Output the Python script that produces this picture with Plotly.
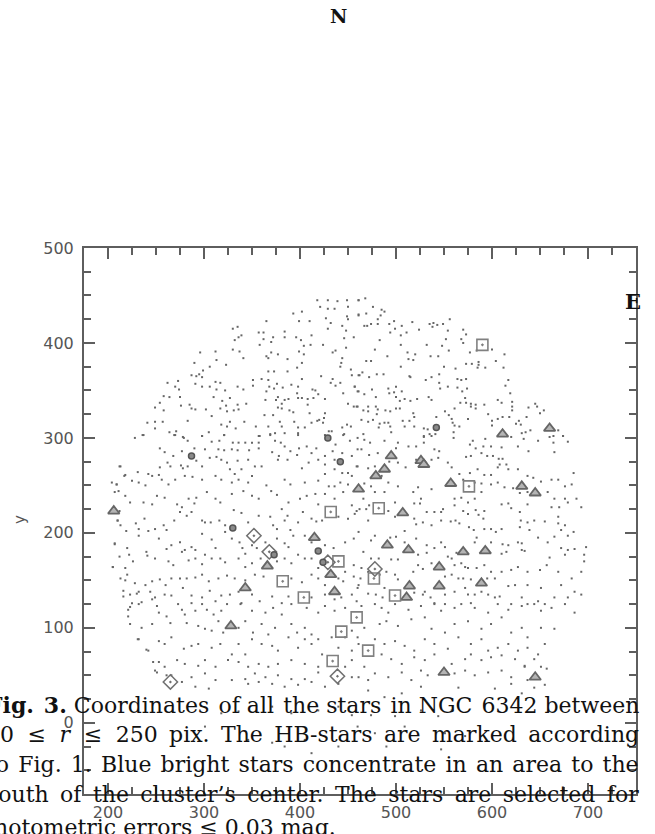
import plotly.graph_objects as go

# ---- data (star coordinates in pixels) ----
field_stars = [
(418,445),(429,445),(439,444),(449,445),(461,445),(421,438),(429,436),(436,436),(450,438),(393,431),
(402,433),(427,426),(449,428),(461,429),(365,423),(399,423),(410,423),(432,421),(450,425),(444,418),
(330,415),(335,417),(429,415),(448,413),(336,406),(339,408),(357,411),(362,411),(372,406),(384,412),
(384,406),(396,406),(401,403),(412,408),(446,405),(456,406),(330,393),(332,403),(337,391),(341,384),
(358,398),(362,404),(370,401),(370,390),(377,388),(365,386),(367,384),(387,383),(399,391),(404,397),
(404,388),(411,398),(424,398),(434,390),(437,392),(448,395),(296,390),(312,391),(313,382),(290,379),
(323,377),(402,379),(397,374),(444,384),(443,379),(442,375),(453,372),(287,366),(292,365),(295,367),
(299,371),(306,375),(298,364),(367,370),(373,370),(387,370),(402,362),(422,365),(432,358),(434,362),
(442,358),(454,366),(462,366),(262,358),(273,360),(270,354),(274,351),(291,357),(298,354),(306,354),
(312,359),(317,358),(313,351),(322,350),(335,354),(341,351),(351,361),(351,355),(360,362),(367,361),
(368,354),(373,352),(376,357),(382,353),(391,356),(398,354),(413,351),(416,350),(419,346),(397,347),
(445,347),(437,355),(457,354),(461,349),(258,344),(264,343),(275,343),(310,343),(319,339),(327,342),
(335,335),(344,336),(365,349),(364,340),(375,340),(377,343),(381,336),(384,340),(388,341),(398,342),
(402,342),(408,341),(414,342),(408,335),(426,341),(450,336),(456,333),(459,333),(254,337),(249,332),
(258,329),(276,334),(285,335),(287,331),(291,330),(302,330),(317,331),(323,334),(324,328),(331,329),
(336,330),(377,332),(381,331),(389,329),(393,327),(410,326),(426,326),(241,316),(249,317),(257,317),
(249,310),(283,318),(308,323),(327,317),(342,317),(363,324),(372,324),(379,317),(394,317),(420,319),
(425,321),(424,316),(418,318),(412,316),(398,311),(405,311),(367,312),(381,312),(318,314),(324,312),
(333,310),(354,312),(237,303),(264,306),(271,307),(269,303),(278,301),(298,302),(305,306),(321,303),
(358,302),(369,303),(374,305),(384,305),(398,305),(430,307),(433,307),(444,311),(453,312),(446,304),
(449,314),
(461,445),(468,447),(476,438),(485,435),(488,433),(461,430),(469,431),(484,429),(481,425),(467,418),
(470,418),(474,420),(481,420),(493,420),(498,423),(506,418),(517,422),(499,415),(494,411),(505,408),
(511,411),(524,414),(535,420),(539,421),(543,419),(549,420),(538,417),(556,425),(554,413),(570,414),
(573,409),(568,404),(570,400),(552,404),(483,403),(478,393),(505,398),(532,398),(548,397),(555,392),
(577,390),(584,392),(600,393),(613,388),(512,390),(520,388),(513,383),(518,382),(536,386),(544,386),
(491,386),(469,381),(474,381),(465,369),(461,366),(472,364),(480,367),(487,367),(505,375),(514,365),
(515,364),(531,361),(537,364),(545,367),(550,375),(562,373),(573,378),(579,378),(586,380),(586,377),
(585,374),(593,374),(604,381),(612,374),(564,362),(568,361),(573,362),(545,358),(546,352),(554,354),
(564,353),(569,349),(574,352),(457,354),(460,349),(475,351),(492,352),(493,347),(500,354),(498,348),
(506,349),(467,346),(479,343),(500,343),(504,339),(509,341),(515,339),(522,341),(534,343),(537,340),
(617,361),(614,355),(619,347),(606,340),(610,337),(621,338),(621,333),(621,329),(572,342),(567,337),
(573,337),(578,336),(583,335),(583,331),(578,333),(592,335),(596,325),(600,318),(600,313),(606,320),
(611,322),(618,322),(625,315),(630,314),(628,318),(636,322),(638,332),(647,333),(645,336),(654,329),
(650,326),(640,308),(631,305),(635,306),(669,308),(674,302),(664,302),(460,333),(471,333),(479,333),
(481,330),(489,329),(494,328),(500,331),(504,331),(471,328),(480,325),(466,329),(464,319),(471,317),
(476,319),(483,315),(482,311),(488,316),(492,316),(494,312),(507,318),(514,318),(518,326),(519,322),
(509,312),(519,312),(529,310),(533,309),(535,304),(541,304),(529,302),(561,331),(551,328),(542,322),
(555,324),(558,320),(559,316),(561,313),(566,312),(575,320),(560,306),(495,306),(466,304),
(228,300),(236,303),(270,303),(279,300),(283,297),(298,302),(308,296),(316,297),(321,303),(330,295),
(336,295),(343,295),(350,295),(357,302),(357,295),(369,304),(374,297),(380,295),(384,291),(398,303),
(399,289),(407,291),(417,289),(426,303),(437,293),(445,303),(452,297),(460,288),(254,289),(259,285),
(268,281),(277,286),(290,289),(301,288),(315,288),(321,287),(329,288),(335,287),(347,287),(357,289),
(371,285),(378,281),(390,286),(397,282),(412,284),(426,281),(434,286),(444,284),(454,281),(213,270),
(218,261),(231,264),(242,262),(246,260),(253,261),(254,269),(262,274),(265,270),(276,271),(278,268),
(283,270),(292,276),(298,270),(306,279),(313,280),(318,277),(324,274),(335,276),(346,277),(353,270),
(327,267),(332,262),(339,267),(350,260),(360,270),(377,277),(387,277),(402,268),(409,274),(419,277),
(426,272),(436,277),(436,267),(444,263),(450,263),(454,260),(459,270),(204,253),(209,251),(225,255),
(232,253),(239,250),(256,256),(263,251),(270,256),(280,260),(288,259),(298,256),(312,260),(318,256),
(329,253),(336,256),(346,253),(365,250),(384,256),(390,251),(405,253),(419,255),(426,262),(430,249),
(436,249),(442,253),(450,251),(207,243),(218,239),(223,232),(237,232),(246,230),(251,239),(259,237),
(272,230),(277,227),(284,236),(290,231),(292,237),(303,243),(312,236),(317,232),(329,241),(341,244),
(350,239),(357,236),(370,244),(376,240),(388,232),(400,236),(407,239),(416,241),(419,230),(426,241),
(436,236),(445,243),(454,229),(459,223),(210,213),(213,208),(229,210),(232,204),(238,215),(242,202),
(249,204),(258,208),(261,203),(269,213),(275,222),(282,218),(287,222),(298,213),(301,211),(307,211),
(316,213),(322,208),(331,224),(339,221),(346,211),(357,218),(369,217),(372,208),(376,204),(381,225),
(384,213),(387,218),(390,203),(398,211),(403,222),(412,215),(417,212),(423,213),(440,217),(450,215),
(457,220),(207,189),(220,184),(222,177),(232,197),(240,180),(253,194),(261,183),(266,187),(275,190),
(280,182),(287,185),(291,182),(298,199),(308,193),(312,184),(322,201),(329,194),(337,190),(340,184),
(343,178),(350,187),(355,184),(364,190),(376,194),(384,189),(388,185),(393,197),(405,197),(412,190),
(426,187),(435,184),(447,190),(456,194),(205,164),(218,163),(226,170),(241,176),(249,173),(263,170),
(268,166),(277,180),(284,171),(291,173),(298,167),(301,177),(308,173),(317,173),(322,169),(336,173),
(343,164),(350,168),(359,173),(376,170),(384,173),(391,168),(398,177),(405,173),(412,173),(419,163),
(447,159),(456,166),(213,152),(220,156),(228,147),(239,145),(246,149),(254,151),(260,145),(266,152),
(275,152),(282,152),(291,153),(298,156),(305,149),(315,152),(324,155),(332,152),(343,150),(353,156),
(362,154),(391,152),(402,148),(412,156),(419,152),(426,145),(440,152),(445,149),(456,154),(461,145),
(216,139),(223,135),(232,138),(244,138),(249,132),(259,135),(266,134),(278,142),(287,134),(298,132),
(306,139),(318,134),(327,135),(336,138),(350,135),(358,128),(371,133),(388,133),(412,132),(426,135),
(436,130),(443,132),(454,135),(459,128),(225,126),(235,127),(246,130),(273,125),(287,126),(312,128),
(339,126),(381,126),
(460,300),(467,298),(473,295),(464,288),(472,282),(481,284),(488,297),(500,289),(502,295),(513,291),
(521,291),(529,301),(537,302),(540,288),(545,286),(529,295),(560,300),(580,297),(577,293),(583,289),
(591,291),(593,299),(599,291),(610,290),(620,301),(627,291),(633,299),(638,286),(648,297),(660,301),
(664,295),(674,302),(679,296),(665,285),(573,280),(578,281),(589,284),(595,281),(601,281),(607,278),
(611,278),(615,272),(608,272),(617,267),(606,269),(599,261),(627,267),(637,260),(643,258),(651,254),
(662,256),(669,256),(676,249),(683,251),(685,263),(658,243),(665,236),(676,236),(688,236),(693,227),
(679,232),(670,227),(662,227),(460,270),(471,268),(478,270),(493,275),(502,274),(510,269),(521,277),
(537,277),(544,279),(554,274),(558,269),(566,262),(577,263),(585,267),(592,261),(570,256),(582,253),
(589,252),(599,251),(606,253),(613,248),(622,247),(629,242),(637,243),(589,243),(582,236),(575,232),
(568,237),(561,236),(537,246),(523,248),(518,243),(502,249),(492,253),(485,260),(474,249),(467,252),
(478,243),(488,243),(499,232),(519,231),(526,236),(525,231),(466,236),(472,229),(462,225),(469,225),
(492,223),(499,217),(519,215),(532,222),(540,222),(547,222),(549,225),(561,229),(570,223),(575,220),
(583,224),(586,219),(591,215),(592,223),(610,230),(617,231),(620,226),(629,222),(637,230),(630,213),
(637,211),(644,213),(655,212),(669,217),(676,208),(669,210),(471,213),(478,197),(461,201),(509,202),
(521,209),(528,211),(537,208),(547,213),(557,212),(562,213),(566,210),(576,206),(581,203),(592,204),
(599,204),(604,201),(610,204),(629,206),(639,203),(672,203),(665,196),(679,197),(685,201),(474,192),
(494,195),(500,196),(509,190),(521,194),(532,187),(547,190),(551,185),(540,184),(563,179),(558,173),
(554,175),(584,195),(582,190),(599,190),(611,188),(617,187),(631,189),(627,190),(648,195),(658,190),
(672,184),(679,182),(686,183),(698,185),(696,177),(676,177),(660,174),(631,182),(634,181),(615,180),
(610,178),(466,180),(474,173),(482,173),(495,172),(502,172),(523,177),(532,179),(537,168),(523,166),
(518,159),(528,162),(561,166),(568,168),(572,164),(575,163),(584,163),(592,166),(599,159),(610,159),
(620,161),(627,164),(637,159),(650,161),(657,166),(669,159),(683,152),(693,159),(696,170),(464,163),
(463,152),(471,159),(483,156),(490,159),(499,156),(502,151),(551,154),(558,156),(565,152),(570,152),
(578,151),(595,152),(603,152),(617,144),(624,145),(637,145),(651,142),(672,145),(686,138),(693,135),
(460,142),(471,136),(479,135),(488,142),(486,132),(478,125),(519,137),(528,135),(530,138),(536,132),
(551,135),(561,138),(572,142),(575,135),(582,135),(589,138),(596,135),(603,132),(608,133),(620,125),
(631,132),(637,125),(648,128),(655,125),(665,132),(679,132),(551,125),(540,126),(578,126),
(221,119),(232,125),(251,123),(253,116),(261,112),(277,119),(280,114),(291,118),(298,125),(303,119),
(310,114),(318,118),(324,125),(338,125),(350,118),(364,116),(372,121),(381,114),(391,125),(407,121),
(419,116),(426,123),(436,118),(447,121),(223,104),(235,100),(246,104),(265,105),(282,105),(294,102),
(301,99),(315,107),(308,97),(320,95),(336,100),(343,107),(351,95),(360,104),(367,93),(374,100),
(391,104),(397,95),(405,100),(412,93),(419,88),(433,90),(447,90),(454,97),(232,88),(242,76),
(253,86),(259,83),(266,90),(279,78),(287,81),(294,83),(308,79),(317,83),(329,72),(336,83),
(343,72),(350,88),(360,83),(371,81),(377,76),(388,90),(398,79),(405,88),(412,83),(423,72),
(440,79),(454,76),(461,83),(253,64),(259,59),(272,66),(280,62),(294,60),(301,66),(312,59),
(325,66),(336,64),(346,59),(357,62),(367,59),(377,62),(391,66),(405,62),(419,59),(447,59),
(454,66),(249,55),(266,50),(287,48),(301,52),(312,45),(329,45),(343,46),(353,52),(364,48),
(377,50),(391,46),(405,46),(419,53),(454,48),(277,43),(291,38),(305,36),(346,41),(357,43),
(371,41),(384,38),(398,40),(412,43),(426,38),(440,41),(318,10),(336,12),(371,17),(391,10),
(419,13),(440,17),(454,8),(301,-4),(371,-21),(405,-18),(440,-25),(412,-32),(384,-25),(346,-18),
(464,123),(485,121),(492,116),(499,125),(513,119),(526,123),(540,125),(547,118),(561,121),(568,125),
(582,121),(596,116),(606,125),(617,119),(631,123),(644,125),(651,118),(662,121),(676,125),(686,116),
(467,100),(483,104),(490,107),(502,102),(516,109),(530,111),(537,99),(551,95),(561,104),(575,107),
(589,99),(599,104),(610,111),(620,95),(631,100),(637,90),(651,100),(665,99),(460,90),(478,88),
(488,83),(499,86),(509,81),(519,76),(530,88),(540,83),(554,78),(565,90),(578,83),(589,88),
(596,76),(606,79),(617,83),(627,76),(637,79),(648,72),(655,83),(485,72),(495,67),(506,62),
(519,69),(530,66),(540,72),(558,62),(572,67),(578,72),(589,66),(599,69),(610,71),(624,67),
(634,60),(644,67),(651,59),(657,57),(467,59),(478,52),(492,48),(506,53),(516,45),(526,55),
(533,50),(561,52),(572,55),(582,50),(596,53),(610,55),(620,48),(634,59),(637,45),(471,45),
(461,48),(471,34),(488,27),(506,31),(526,38),(565,37),(603,36),(620,41),(631,31),(644,37),
(655,40),(474,8),(499,7),(526,13),(544,7),(558,13),(460,-4),(478,-11),(490,-25),(509,-4),
(547,-28),(551,-11),(572,-14),
(210,213),(207,188),(205,164),(212,175),(218,150),(216,133),(223,122),(230,136),(219,202),(212,223),
(221,112),(231,88),(240,77),(247,64),(251,53),(261,50),(209,251),(211,244),(212,270),(217,260),
]
field_x = [p[0] for p in field_stars]
field_y = [p[1] for p in field_stars]

tri_x = [206, 415, 366, 432, 343, 436, 328, 461, 495, 526, 529, 488, 479, 557, 631,
         645, 507, 491, 513, 570, 593, 545, 514, 545, 589, 511, 611, 660, 550, 645]
tri_y = [223, 195, 165, 156, 142, 138, 102, 246, 281, 276, 272, 267, 260, 252, 249,
         242, 221, 187, 182, 180, 181, 164, 144, 144, 147, 132, 304, 310, 53, 48]

sq_x = [590, 432, 576, 482, 440, 382, 404, 477, 499, 459, 443, 471, 434]
sq_y = [398, 222, 249, 226, 170, 149, 132, 152, 134, 111, 96, 76, 65]

dia_x = [352, 368, 429, 478, 439, 265]
dia_y = [197, 180, 169, 162, 49, 43]

dot_x = [287, 429, 442, 330, 373, 419, 424, 542]
dot_y = [281, 300, 275, 205, 177, 181, 169, 311]

x_ticks = [200, 300, 400, 500, 600, 700]
y_ticks = [0, 100, 200, 300, 400, 500]

HS = "\u200a"   # hair space (justification)
TS = "\u2009"   # thin space (justification)
caption_words = [
    ["<b>Fig.", "3.</b>", "Coordinates", "of", "all", "the", "stars", "in", "NGC", "6342", "between"],
    ["50", "\u2264", "<i>r</i>", "\u2264", "250", "pix.", "The", "HB-stars", "are", "marked", "according"],
    ["to", "Fig.", "1.", "Blue", "bright", "stars", "concentrate", "in", "an", "area", "to", "the"],
    ["south", "of", "the", "cluster\u2019s", "center.", "The", "stars", "are", "selected", "for"],
    ["photometric", "errors", "\u2264", "0.03", "mag."],
]
# extra inter-word space per gap, imitating the justified caption
caption_extra = [
    [HS, "", HS, "", HS, "", HS, "", HS, ""],
    [TS + HS, TS + HS, TS + HS, TS + HS, TS, TS, TS, TS, TS, TS],
    [HS] * 11,
    [TS] * 9,
    [""] * 4,
]

def build_line(words, extra):
    out = words[0]
    for w, e in zip(words[1:], extra):
        out += " " + e + w
    return out

# ---- figure ----
fig = go.Figure()
fig.add_trace(go.Scatter(x=field_x, y=field_y, mode="markers",
                         marker=dict(symbol="square", size=2, color="#666666",
                                     line=dict(width=0)),
                         hoverinfo="skip", showlegend=False))
fig.add_trace(go.Scatter(x=tri_x, y=tri_y, mode="markers",
                         marker=dict(symbol="triangle-up", size=10, color="#b4b4b4",
                                     line=dict(color="#666666", width=1.8)),
                         showlegend=False))
fig.add_trace(go.Scatter(x=sq_x, y=sq_y, mode="markers",
                         marker=dict(symbol="square-open-dot", size=11, color="#808080",
                                     line=dict(color="#808080", width=1.6)),
                         showlegend=False))
fig.add_trace(go.Scatter(x=dia_x, y=dia_y, mode="markers",
                         marker=dict(symbol="diamond-open-dot", size=11, color="#707070",
                                     line=dict(color="#707070", width=1.5)),
                         showlegend=False))
fig.add_trace(go.Scatter(x=dot_x, y=dot_y, mode="markers",
                         marker=dict(symbol="circle", size=6, color="#8a8a8a",
                                     line=dict(color="#555555", width=1.5)),
                         showlegend=False))

axis_common = dict(
    showgrid=False, zeroline=False, showline=True, linecolor="#5e5e5e", linewidth=2,
    mirror="allticks", ticks="inside", ticklen=11, tickwidth=1.5, tickcolor="#5e5e5e",
    tickfont=dict(family="DejaVu Sans", size=16, color="#555555"),
    minor=dict(ticks="inside", ticklen=7, tickwidth=1.5, tickcolor="#5e5e5e", dtick=25),
)
fig.update_xaxes(range=[175, 750], tickvals=x_ticks, ticktext=[str(v) for v in x_ticks],
                 ticklabelstandoff=3, **axis_common)
fig.update_yaxes(range=[-75, 500], tickvals=y_ticks, ticktext=[str(v) for v in y_ticks],
                 ticklabelstandoff=5, **axis_common)

W, H = 655, 834
L, R, T, B = 84, 19, 248, 34
pw, ph = W - L - R, H - T - B

def px(xp):
    return (xp - L) / pw

def py(yp):
    return (H - B - yp) / ph

annos = []
annos.append(dict(x=px(338), y=py(13), xref="paper", yref="paper", text="<b>N</b>",
                  showarrow=False, font=dict(family="DejaVu Serif", size=19, color="#111"),
                  xanchor="center", yanchor="middle"))
annos.append(dict(x=px(633), y=py(302), xref="paper", yref="paper", text="<b>E</b>",
                  showarrow=False, font=dict(family="DejaVu Serif", size=21, color="#111"),
                  xanchor="center", yanchor="middle"))
annos.append(dict(x=px(20), y=py(523), xref="paper", yref="paper", text="y",
                  textangle=-90, showarrow=False,
                  font=dict(family="DejaVu Sans", size=15, color="#555555"),
                  xanchor="center", yanchor="middle"))

line_centers = [710, 740, 770, 800, 834]
for i, words in enumerate(caption_words):
    txt = build_line(words, caption_extra[i])
    if i < 4:
        annos.append(dict(x=px(641), y=py(line_centers[i]), xref="paper", yref="paper",
                          text=txt, showarrow=False, xanchor="right", yanchor="middle",
                          font=dict(family="DejaVu Serif", size=22, color="#111")))
    else:
        annos.append(dict(x=px(-22), y=py(line_centers[i]), xref="paper", yref="paper",
                          text=txt, showarrow=False, xanchor="left", yanchor="middle",
                          font=dict(family="DejaVu Serif", size=22, color="#111")))

fig.update_layout(width=W, height=H, margin=dict(l=L, r=R, t=T, b=B, pad=0),
                  paper_bgcolor="white", plot_bgcolor="white", annotations=annos)

fig.write_html("out.html", config={"displayModeBar": False},
               post_script="document.body.style.margin='0px';document.body.style.overflow='hidden';")
